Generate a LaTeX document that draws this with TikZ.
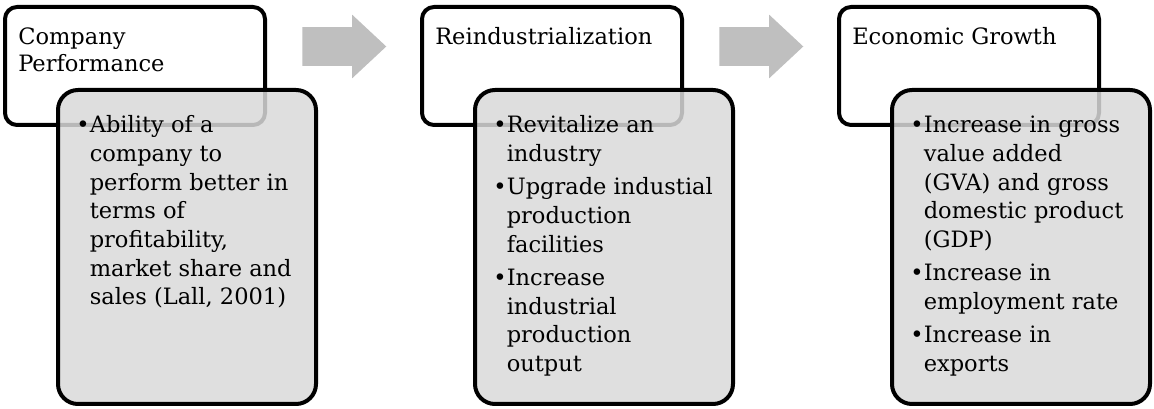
\documentclass[tikz,border=0pt]{standalone}
\usepackage{fontspec}
\setmainfont{DejaVu Serif}
\usetikzlibrary{shapes.arrows}

\newdimen\pxu \pxu=0.75pt
\definecolor{arrowgray}{HTML}{BFBFBF}
\definecolor{panelgray}{HTML}{D9D9D9}

% text block whose baseline is the first line
\newcommand{\lines}[1]{\vtop{\hsize=245\pxu\parindent=0pt\parskip=3.4pt #1\par}}
\newcommand{\bitem}{\par\hangindent=13.5\pxu\hangafter=1\noindent\makebox[13.5\pxu][l]{\textbullet}}

\begin{document}
\begin{tikzpicture}[
    x=0.75pt, y=-0.75pt,
    every node/.style={inner sep=0pt},
    titlebox/.style={draw=black, line width=3pt, rounded corners=12\pxu, fill=white,
        minimum width=260\pxu, minimum height=118\pxu, anchor=north west},
    detailbox/.style={draw=black, line width=3pt, rounded corners=20\pxu,
        fill=panelgray, fill opacity=0.85,
        minimum width=258\pxu, minimum height=314\pxu, anchor=north west},
    flow/.style={single arrow, fill=arrowgray, minimum height=84\pxu,
        inner xsep=0pt, inner ysep=19\pxu, anchor=tail,
        single arrow head extend=12.5\pxu, single arrow tip angle=86},
    heading/.style={anchor=base west, font=\fontsize{16.9}{20}\selectfont},
    points/.style={anchor=base west, font=\fontsize{16.9}{21.5}\selectfont},
    ]
    \useasboundingbox (0,0) rectangle (1154,409);

    % boxes
    \node [titlebox] (perf) at (3,5) {};
    \node [detailbox] (perfd) at ([shift={(53,83)}]perf.north west) {};
    \node [titlebox] (reind) at (420,5) {};
    \node [detailbox] (reindd) at ([shift={(53,83)}]reind.north west) {};
    \node [titlebox] (growth) at (837,5) {};
    \node [detailbox] (growthd) at ([shift={(53,83)}]growth.north west) {};

    % arrows between stages
    \node [flow] (a1) at (302,46.5) {};
    \node [flow] (a2) at (719,46.5) {};

    % headings
    \node [heading] (perft) at ([shift={(15,40)}]perf.north west)
        {\lines{Company\newline Performance}};
    \node [heading] (reindt) at ([shift={(15,40)}]reind.north west)
        {\lines{Reindustrialization}};
    \node [heading] (growtht) at ([shift={(15,40)}]growth.north west)
        {\lines{Economic Growth}};

    % bullet points
    \node [points] (perfp) at ([shift={(20,45)}]perfd.north west)
        {\lines{\bitem Ability of a\newline company to\newline perform better in\newline
        terms of\newline profitability,\newline market share and\newline sales (Lall, 2001)}};
    \node [points] (reindp) at ([shift={(20,45)}]reindd.north west)
        {\lines{\bitem Revitalize an\newline industry
        \bitem Upgrade industial\newline production\newline facilities
        \bitem Increase\newline industrial\newline production\newline output}};
    \node [points] (growthp) at ([shift={(20,45)}]growthd.north west)
        {\lines{\bitem Increase in gross\newline value added\newline (GVA) and gross\newline
        domestic product\newline (GDP)
        \bitem Increase in\newline employment rate
        \bitem Increase in\newline exports}};
\end{tikzpicture}
\end{document}
